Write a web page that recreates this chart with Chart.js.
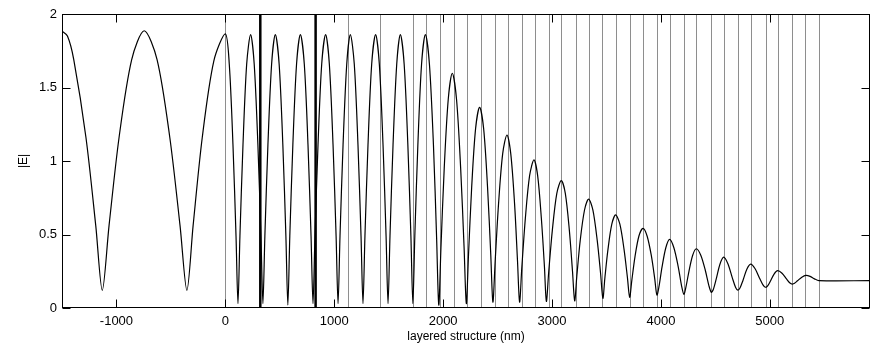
<!DOCTYPE html>
<html>
<head>
<meta charset="utf-8">
<script src="https://cdn.jsdelivr.net/npm/chart.js@4.4.0/dist/chart.umd.min.js"></script>
<style>
  html, body { margin: 0; padding: 0; background: #fff; }
  #wrap { width: 871px; height: 354px; }
</style>
</head>
<body>
<div id="wrap"><canvas id="fieldChart" width="871" height="354"></canvas></div>
<script>
// layer interfaces (nm); the two thick ones bound the active region
const thinEdges = [0, 1126, 1423, 1723, 1846, 1974, 2096, 2222, 2344, 2473, 2595, 2724, 2840,
  2971, 3085, 3223, 3336, 3462, 3584, 3713, 3835, 3963, 4080, 4211, 4325, 4459, 4576, 4711,
  4824, 4962, 5072, 5201, 5322, 5451];
const thickEdges = [321, 829];

const xTicks = [-1000, 0, 1000, 2000, 3000, 4000, 5000];
const yTicks = [0, 0.5, 1, 1.5, 2];

// |E| in the incidence medium
const outsideX = [-1505, -1450, -1392, -1280, -1190, -1130, -1068, -976, -860, -745, -627, -510, -416, -353, -296, -212, -106];
const outsideY = [1.886, 1.85, 1.69, 1.16, 0.56, 0.12, 0.56, 1.16, 1.69, 1.886, 1.69, 1.16, 0.56, 0.12, 0.56, 1.16, 1.68];

// |E| through the top layers and the cavity
const cavityX = [0, 36, 70, 98, 116, 134, 162, 196, 232, 265, 299, 327, 345, 363, 391, 425, 459,
  494, 528, 556, 574, 592, 620, 654, 689, 725, 759, 787, 805, 823, 851, 885, 921,
  955, 989, 1017, 1035, 1053, 1081, 1115, 1148, 1184, 1218, 1246, 1264, 1282, 1310, 1344, 1380,
  1414, 1448, 1476, 1494, 1512, 1540, 1574, 1607, 1642, 1676, 1704, 1722, 1740, 1768, 1802, 1837];
const cavityY = [1.865, 1.66, 1.11, 0.49, 0.03, 0.49, 1.11, 1.66, 1.86, 1.66, 1.11, 0.49, 0.03, 0.49, 1.11, 1.66, 1.86,
  1.66, 1.11, 0.49, 0.02, 0.49, 1.11, 1.66, 1.86, 1.66, 1.11, 0.49, 0.03, 0.49, 1.11, 1.66, 1.86,
  1.66, 1.11, 0.49, 0.03, 0.49, 1.11, 1.66, 1.86, 1.66, 1.11, 0.49, 0.03, 0.49, 1.11, 1.66, 1.86,
  1.66, 1.11, 0.49, 0.03, 0.49, 1.11, 1.66, 1.86, 1.66, 1.11, 0.49, 0.03, 0.49, 1.11, 1.66, 1.86];

// |E| decaying inside the mirror stack
const mirrorX = [1874, 1911, 1940, 1960, 1980, 2010, 2047, 2084, 2123, 2161, 2192, 2213,
  2233, 2262, 2298, 2335, 2372, 2408, 2437, 2457, 2478, 2509, 2547, 2586, 2621, 2656, 2683, 2702,
  2723, 2755, 2794, 2834, 2868, 2902, 2930, 2948, 2970, 3003, 3044, 3085, 3122, 3159, 3188, 3208,
  3228, 3259, 3298, 3336, 3375, 3415, 3446, 3467, 3486, 3514, 3549, 3584, 3623, 3661, 3692, 3713,
  3733, 3762, 3798, 3835, 3873, 3912, 3943, 3963, 3982, 4010, 4045, 4080, 4119, 4159, 4190, 4211,
  4229, 4257, 4291, 4325, 4366, 4408, 4441, 4463, 4481, 4508, 4542, 4576, 4615, 4655, 4686, 4707,
  4726, 4754, 4789, 4824, 4865, 4907, 4940, 4962, 4980, 5006, 5039, 5072, 5112, 5153, 5185, 5207,
  5227, 5254, 5294, 5331, 5370, 5410, 5451];
const mirrorY = [1.66, 1.11, 0.48, 0.02, 0.41, 0.95, 1.42, 1.597, 1.42, 0.95, 0.42, 0.03,
  0.36, 0.82, 1.22, 1.365, 1.22, 0.82, 0.37, 0.04, 0.32, 0.71, 1.05, 1.177, 1.05, 0.71, 0.32, 0.04,
  0.28, 0.61, 0.90, 1.007, 0.90, 0.61, 0.285, 0.045, 0.25, 0.53, 0.78, 0.866, 0.78, 0.53, 0.25, 0.048,
  0.22, 0.46, 0.665, 0.741, 0.667, 0.46, 0.235, 0.066, 0.21, 0.40, 0.57, 0.633, 0.57, 0.40, 0.21, 0.073,
  0.19, 0.35, 0.49, 0.542, 0.49, 0.356, 0.20, 0.088, 0.145, 0.278, 0.41, 0.467, 0.41, 0.28, 0.149, 0.093,
  0.14, 0.248, 0.357, 0.403, 0.359, 0.255, 0.151, 0.107, 0.126, 0.198, 0.298, 0.346, 0.301, 0.207, 0.14, 0.122,
  0.136, 0.189, 0.264, 0.299, 0.267, 0.201, 0.154, 0.141, 0.15, 0.184, 0.231, 0.254, 0.236, 0.198, 0.17, 0.163,
  0.168, 0.185, 0.21, 0.222, 0.215, 0.198, 0.186];

// substrate: transmitted field stays flat
const substrateX = [5920];
const substrateY = [0.186];

const fieldX = outsideX.concat(cavityX, mirrorX, substrateX);
const fieldY = outsideY.concat(cavityY, mirrorY, substrateY);
const fieldPoints = fieldX.map((x, i) => ({ x: x, y: fieldY[i] }));

const TICK_LEN = 8;

// vertical lines at every interface, drawn under the curve
const layerLines = {
  id: 'layerLines',
  beforeDatasetsDraw(chart) {
    const { ctx, chartArea: a, scales: { x } } = chart;
    ctx.save();
    ctx.strokeStyle = '#8e8e8e';
    ctx.lineWidth = 1;
    thinEdges.forEach(v => {
      const px = Math.round(x.getPixelForValue(v)) + 0.5;
      ctx.beginPath();
      ctx.moveTo(px, a.top);
      ctx.lineTo(px, a.bottom);
      ctx.stroke();
    });
    ctx.strokeStyle = '#000';
    ctx.lineWidth = 2.5;
    thickEdges.forEach(v => {
      const px = x.getPixelForValue(v);
      ctx.beginPath();
      ctx.moveTo(px, a.top);
      ctx.lineTo(px, a.bottom);
      ctx.stroke();
    });
    ctx.restore();
  }
};

// closed box with inward ticks on all four sides
const boxAxes = {
  id: 'boxAxes',
  afterDatasetsDraw(chart) {
    const { ctx, chartArea: a, scales: { x, y } } = chart;
    const l = a.left + 0.5, r = a.right - 0.5, t = a.top + 0.5, b = a.bottom - 0.5;
    ctx.save();
    ctx.strokeStyle = '#000';
    ctx.lineWidth = 1;
    ctx.strokeRect(l, t, r - l, b - t);
    ctx.beginPath();
    x.ticks.forEach(tk => {
      const px = Math.round(x.getPixelForValue(tk.value)) + 0.5;
      ctx.moveTo(px, b); ctx.lineTo(px, b - TICK_LEN);
      ctx.moveTo(px, t); ctx.lineTo(px, t + TICK_LEN);
    });
    y.ticks.forEach(tk => {
      const py = Math.round(y.getPixelForValue(tk.value)) + 0.5;
      ctx.moveTo(l, py); ctx.lineTo(l + TICK_LEN, py);
      ctx.moveTo(r, py); ctx.lineTo(r - TICK_LEN, py);
    });
    ctx.stroke();
    ctx.restore();
  }
};

const tickFont = { family: 'Liberation Sans, Arial, sans-serif', size: 13 };
const titleFont = { family: 'Liberation Sans, Arial, sans-serif', size: 12 };

new Chart(document.getElementById('fieldChart'), {
  type: 'line',
  data: {
    datasets: [{
      data: fieldPoints,
      borderColor: '#000',
      borderWidth: 1.2,
      pointRadius: 0,
      tension: 0.3,
      fill: false
    }]
  },
  options: {
    responsive: false,
    animation: false,
    layout: { padding: { top: 14, right: 1, left: 0, bottom: 0 } },
    plugins: { legend: { display: false }, tooltip: { enabled: false } },
    scales: {
      x: {
        type: 'linear',
        min: -1500,
        max: 5920,
        grid: { display: false, drawTicks: false },
        border: { display: false },
        afterBuildTicks: s => { s.ticks = xTicks.map(v => ({ value: v })); },
        afterFit: s => { s.height = 46; },
        ticks: { color: '#000', font: tickFont, padding: 6, maxRotation: 0, callback: v => String(v) },
        title: { display: true, text: 'layered structure (nm)', color: '#000', font: titleFont, padding: { top: 0, bottom: 10 } }
      },
      y: {
        min: 0,
        max: 2,
        grid: { display: false, drawTicks: false },
        border: { display: false },
        afterBuildTicks: s => { s.ticks = yTicks.map(v => ({ value: v })); },
        afterFit: s => { s.width = 62; },
        ticks: { color: '#000', font: tickFont, padding: 5, callback: v => String(v) },
        title: { display: true, text: '|E|', color: '#000', font: titleFont, padding: { top: 16, bottom: 0 } }
      }
    }
  },
  plugins: [layerLines, boxAxes]
});
</script>
</body>
</html>
